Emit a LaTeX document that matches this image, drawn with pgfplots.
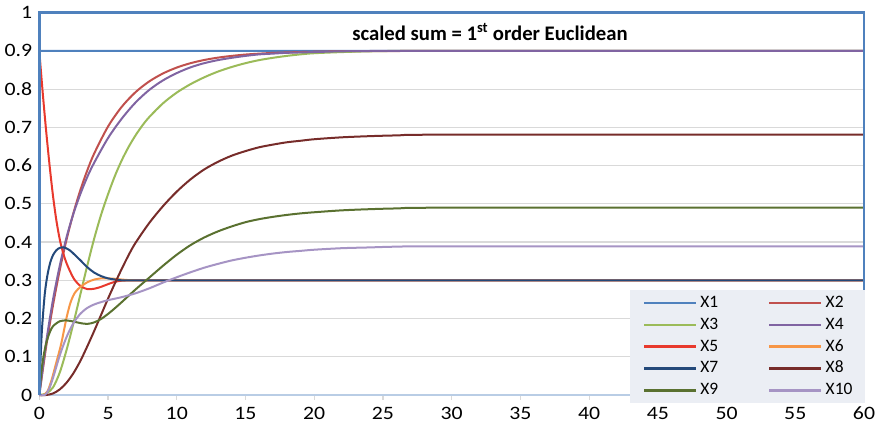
\documentclass[border=0pt]{standalone}
\usepackage{pgfplots}
\pgfplotsset{compat=1.18}
\usepackage{fontspec}
\setmainfont{Carlito}
\newfontfamily\tickfont{Carlito}[FakeStretch=1.15]
\definecolor{cX1}{HTML}{4F81BD}
\definecolor{cX2}{HTML}{C0504D}
\definecolor{cX3}{HTML}{9BBB59}
\definecolor{cX4}{HTML}{8064A2}
\definecolor{cX5}{HTML}{E8392D}
\definecolor{cX6}{HTML}{F79646}
\definecolor{cX7}{HTML}{24497A}
\definecolor{cX8}{HTML}{772C2A}
\definecolor{cX9}{HTML}{5A7130}
\definecolor{cX10}{HTML}{A694C4}
\definecolor{gridgray}{HTML}{D9D9D9}
\definecolor{legbg}{HTML}{EBEEF4}
\definecolor{axlight}{HTML}{B9CDE5}
\begin{document}
\begin{tikzpicture}
\path[use as bounding box] (-39.3bp,-32bp) rectangle (840.7bp,395bp);
\begin{axis}[
  name=ax, at={(0,0)}, anchor=south west,
  scale only axis, width=824.7bp, height=382.3bp,
  xmin=0, xmax=60, ymin=0, ymax=1,
  clip=false,
  xtick={0,5,10,15,20,25,30,35,40,45,50,55,60},
  ytick={0,0.1,0.2,0.3,0.4,0.5,0.6,0.7,0.8,0.9,1},
  axis line style={draw=none},
  ymajorgrids, grid style={color=gridgray, line width=1.3bp},
  tick label style={font=\tickfont\fontsize{19}{20}\selectfont},
  /pgf/number format/assume math mode=true,
  xtick pos=bottom, ytick pos=left,
  tick align=outside, major tick length=5bp,
  xtick style={color=gridgray, line width=1.2bp},
  ytick style={draw=none},
  yticklabel style={inner sep=0pt, xshift=-2bp},
  xticklabel style={inner sep=0pt, yshift=-7bp},
  legend columns=2,
  legend style={at={(1.002,0.275)}, anchor=north east, fill=legbg, draw=none,
    font=\fontsize{17.5}{20}\selectfont, inner xsep=13bp, inner ysep=5.5bp,
    nodes={inner sep=0pt, text height=12bp, text depth=3bp},
    row sep=6.8bp,
    /tikz/every odd column/.append style={column sep=3bp},
    /tikz/every even column/.append style={column sep=50bp}},
  legend cell align=left,
  legend image code/.code={\draw[#1, line width=2.5bp] (0bp,0bp) -- (52bp,0bp);},
  every axis plot/.append style={line width=2bp},
]
\draw[axlight, line width=1.5bp] (axis cs:0,0) -- (axis cs:60,0);
\addplot[cX1, no marks] coordinates {(0,0) (0.05,0.9) (60,0.9)};
\addlegendentry{X1}
\addplot[cX2, no marks, smooth] coordinates {(0,0) (0.5,0.1266) (1,0.2353) (1.5,0.3287) (2,0.409) (2.5,0.4781) (3,0.5374) (3.5,0.5884) (4,0.6322) (5,0.7022) (6,0.7539) (7,0.7921) (8,0.8203) (9,0.8411) (10,0.8565) (11,0.8679) (12,0.8763) (13,0.8825) (14,0.887) (15,0.8905) (16,0.8929) (17,0.8948) (18,0.8961) (20,0.8979) (22,0.8989) (25,0.8995) (30,0.9) (60,0.9)};
\addlegendentry{X2}
\addplot[cX3, no marks, smooth] coordinates {(0,0) (0.5,0.004) (1,0.02) (1.5,0.06) (2,0.12) (2.5,0.19) (3,0.265) (3.5,0.34) (4,0.41) (4.5,0.472) (5,0.525) (5.5,0.573) (6,0.614) (6.5,0.649) (7,0.679) (7.5,0.705) (8,0.727) (9,0.763) (10,0.791) (11,0.813) (12,0.831) (13,0.846) (14,0.858) (15,0.868) (16,0.876) (17,0.882) (18,0.887) (19,0.891) (20,0.894) (22,0.897) (24,0.899) (26,0.9) (30,0.9) (60,0.9)};
\addlegendentry{X3}
\addplot[cX4, no marks, smooth] coordinates {(0,0) (0.5,0.138) (1,0.25) (1.5,0.34) (2,0.415) (2.5,0.476) (3,0.527) (3.5,0.571) (4,0.608) (5,0.672) (6,0.723) (7,0.765) (8,0.798) (9,0.823) (10,0.842) (11,0.857) (12,0.868) (13,0.876) (14,0.882) (15,0.887) (16,0.891) (17,0.893) (18,0.895) (20,0.897) (22,0.899) (25,0.9) (30,0.9) (60,0.9)};
\addlegendentry{X4}
\addplot[cX5, no marks, smooth] coordinates {(0,0.9) (0.25,0.79) (0.5,0.69) (0.75,0.6) (1,0.52) (1.25,0.455) (1.5,0.405) (1.75,0.37) (2,0.343) (2.5,0.305) (3,0.285) (3.5,0.277) (4,0.278) (4.5,0.283) (5,0.29) (5.5,0.296) (6,0.299) (7,0.3) (10,0.3) (60,0.3)};
\addlegendentry{X5}
\addplot[cX6, no marks, smooth] coordinates {(0,0) (0.3,0) (0.6,0.01) (0.9,0.04) (1.2,0.08) (1.6,0.135) (2,0.205) (2.3,0.245) (2.6,0.268) (3,0.283) (3.5,0.295) (4,0.302) (4.5,0.305) (5,0.305) (5.5,0.304) (6,0.302) (7,0.3) (10,0.3) (60,0.3)};
\addlegendentry{X6}
\addplot[cX7, no marks, smooth] coordinates {(0,0) (0.1,0.1) (0.2,0.175) (0.4,0.265) (0.6,0.315) (0.8,0.347) (1,0.366) (1.25,0.379) (1.5,0.385) (1.8,0.386) (2.2,0.379) (2.6,0.366) (3,0.352) (3.5,0.334) (4,0.32) (4.5,0.311) (5,0.305) (5.5,0.302) (6,0.3) (7,0.3) (10,0.3) (60,0.3)};
\addlegendentry{X7}
\addplot[cX8, no marks, smooth] coordinates {(0,0) (0.5,0) (1,0.004) (1.5,0.015) (2,0.033) (2.5,0.058) (3,0.09) (3.5,0.128) (4,0.168) (4.5,0.21) (5,0.252) (5.5,0.292) (6,0.33) (6.5,0.366) (7,0.398) (8,0.45) (9,0.494) (10,0.532) (11,0.564) (12,0.59) (13,0.61) (14,0.626) (15,0.638) (16,0.648) (17,0.655) (18,0.661) (19,0.665) (20,0.669) (22,0.674) (24,0.677) (26,0.679) (30,0.681) (60,0.681)};
\addlegendentry{X8}
\addplot[cX9, no marks, smooth] coordinates {(0,0) (0.15,0.06) (0.3,0.1) (0.5,0.135) (0.75,0.163) (1,0.18) (1.5,0.193) (2,0.195) (2.5,0.192) (3,0.188) (3.5,0.186) (4,0.19) (4.5,0.199) (5,0.212) (5.5,0.227) (6,0.243) (7,0.276) (8,0.307) (9,0.338) (10,0.367) (11,0.392) (12,0.412) (13,0.428) (14,0.441) (15,0.452) (16,0.46) (17,0.466) (18,0.471) (19,0.475) (20,0.478) (22,0.483) (24,0.486) (26,0.488) (30,0.49) (60,0.49)};
\addlegendentry{X9}
\addplot[cX10, no marks, smooth] coordinates {(0,0) (0.4,0) (0.7,0.015) (1,0.045) (1.5,0.105) (2,0.153) (2.5,0.189) (3,0.213) (3.5,0.228) (4,0.237) (4.5,0.243) (5,0.248) (6,0.256) (7,0.266) (8,0.279) (9,0.294) (10,0.308) (11,0.321) (12,0.333) (13,0.343) (14,0.352) (15,0.359) (16,0.365) (17,0.37) (18,0.374) (19,0.377) (20,0.38) (22,0.384) (24,0.386) (26,0.388) (30,0.389) (60,0.389)};
\addlegendentry{X10}
\draw[cX1, line width=2.5bp] (rel axis cs:0,0) -- (rel axis cs:0,1) -- (rel axis cs:1,1) -- (rel axis cs:1,0);
\node[font=\bfseries\fontsize{20.8}{24}\selectfont] at (rel axis cs:0.5465,0.95) {scaled sum = 1\textsuperscript{st} order Euclidean};
\end{axis}
\end{tikzpicture}
\end{document}
